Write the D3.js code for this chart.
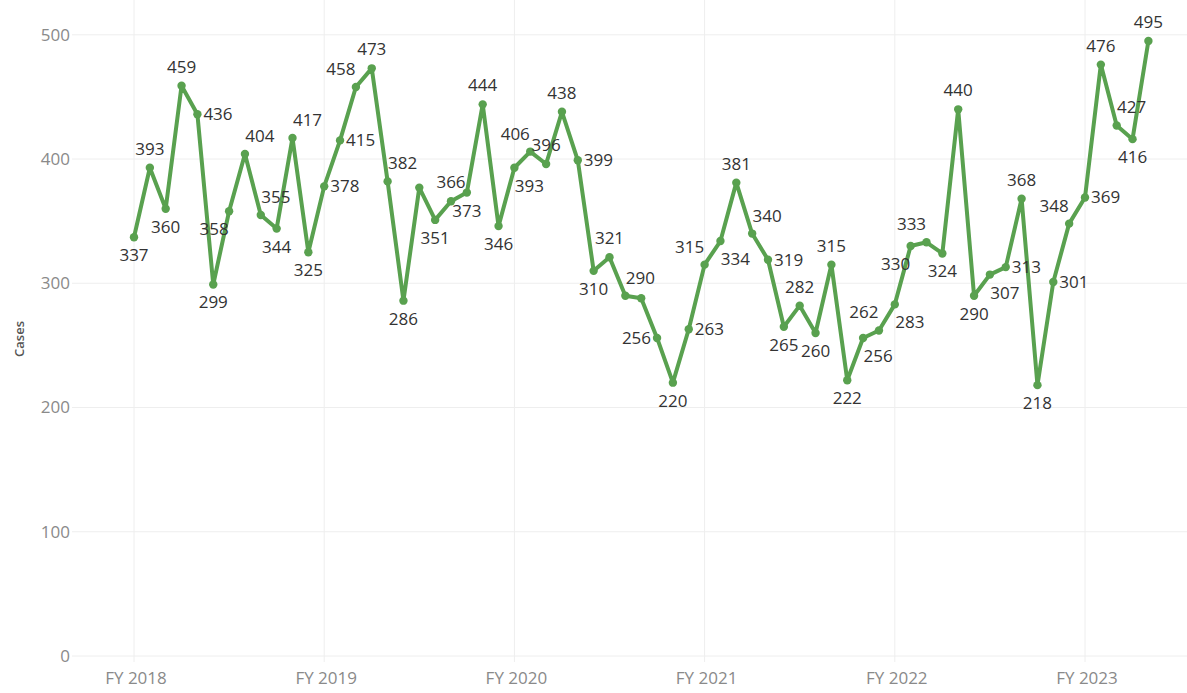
<!DOCTYPE html>
<html>
<head>
<meta charset="utf-8">
<script src="https://cdn.jsdelivr.net/npm/d3@7"></script>
<style>
  html, body { margin: 0; padding: 0; background: #fff; }
  svg { display: block; }
</style>
</head>
<body>
<div id="chart"></div>
<script>
const fiscalYears = ['FY 2018', 'FY 2019', 'FY 2020', 'FY 2021', 'FY 2022', 'FY 2023'];

// monthly case counts, first month of FY 2018 onwards
const cases = [
  337, 393, 360, 459, 436, 299, 358, 404, 355, 344, 417, 325,
  378, 415, 458, 473, 382, 286, 377, 351, 366, 373, 444, 346,
  393, 406, 396, 438, 399, 310, 321, 290, 288, 256, 220, 263,
  315, 334, 381, 340, 319, 265, 282, 260, 315, 222, 256, 262,
  283, 330, 333, 324, 440, 290, 307, 313, 368, 218, 301, 348,
  369, 476, 427, 416, 495
];

const yTicks = [0, 100, 200, 300, 400, 500];

// where each value label sits relative to its point ('' = no label)
const labelPlace = [
  'b','a','b','a','r','b','bl','ar','ar','b','ar','b',
  'r','r','al','a','ar','b','','b','a','b','a','b',
  'br','al','a','a','r','b','a','ar','','l','b','r',
  'al','br','a','ar','r','b','a','b','a','b','br','al',
  'br','bl','al','b','a','b','br','r','a','b','r','al',
  'r','a','ar','b','a'
];

const W = 1187, H = 693;
const GREEN = '#59a14f';
const GRID  = '#eeeeee';
const MUTED = '#8a8a8a';
const INK   = '#333';
const FONT  = '"Open Sans", "Noto Sans", sans-serif';

const plotLeft = 72;

const x = d3.scaleLinear()
  .domain([0, cases.length - 1])
  .range([134, 134 + (cases.length - 1) * 15.85]);

const y = d3.scaleLinear()
  .domain([0, 528])
  .range([656, 0]);

const svg = d3.select('#chart').append('svg')
  .attr('width', W)
  .attr('height', H)
  .attr('viewBox', `0 0 ${W} ${H}`);

// horizontal grid
svg.selectAll('.h-grid')
  .data(yTicks)
  .join('line')
  .attr('class', 'h-grid')
  .attr('x1', plotLeft).attr('x2', W)
  .attr('y1', d => y(d)).attr('y2', d => y(d))
  .attr('stroke', GRID)
  .attr('stroke-width', 1);

// vertical grid at each fiscal year start
const yearIdx = fiscalYears.map((_, i) => i * 12);
svg.selectAll('.v-grid')
  .data(yearIdx)
  .join('line')
  .attr('class', 'v-grid')
  .attr('x1', d => x(d)).attr('x2', d => x(d))
  .attr('y1', 0).attr('y2', y(0) + 6)
  .attr('stroke', GRID)
  .attr('stroke-width', 1);

// y tick labels
svg.selectAll('.y-label')
  .data(yTicks)
  .join('text')
  .attr('class', 'y-label')
  .attr('x', 70)
  .attr('y', d => y(d))
  .attr('dy', '0.35em')
  .attr('text-anchor', 'end')
  .attr('font-family', FONT)
  .attr('font-size', 17)
  .attr('fill', MUTED)
  .text(d => d);

// x tick labels
svg.selectAll('.x-label')
  .data(yearIdx)
  .join('text')
  .attr('class', 'x-label')
  .attr('x', d => x(d) + 2)
  .attr('y', 678)
  .attr('dy', '0.35em')
  .attr('text-anchor', 'middle')
  .attr('font-family', FONT)
  .attr('font-size', 17)
  .attr('fill', MUTED)
  .text((d, i) => fiscalYears[i]);

// y axis title
svg.append('text')
  .attr('transform', `translate(19,339) rotate(-90)`)
  .attr('dy', '0.35em')
  .attr('text-anchor', 'middle')
  .attr('font-family', FONT)
  .attr('font-size', 13)
  .attr('font-weight', 600)
  .attr('fill', '#555')
  .text('Cases');

// line
const line = d3.line()
  .x((d, i) => x(i))
  .y(d => y(d));

svg.append('path')
  .datum(cases)
  .attr('d', line)
  .attr('fill', 'none')
  .attr('stroke', GREEN)
  .attr('stroke-width', 4)
  .attr('stroke-linejoin', 'round');

svg.selectAll('.dot')
  .data(cases)
  .join('circle')
  .attr('class', 'dot')
  .attr('cx', (d, i) => x(i))
  .attr('cy', d => y(d))
  .attr('r', 4.2)
  .attr('fill', GREEN);

// value labels
const off = {
  a:  { dx: 0,   dy: -19, anchor: 'middle' },
  b:  { dx: 0,   dy: 18,  anchor: 'middle' },
  r:  { dx: 6,   dy: 0,   anchor: 'start' },
  l:  { dx: -6,  dy: 0,   anchor: 'end' },
  ar: { dx: 15,  dy: -18, anchor: 'middle' },
  al: { dx: -15, dy: -18, anchor: 'middle' },
  br: { dx: 15,  dy: 18,  anchor: 'middle' },
  bl: { dx: -15, dy: 18,  anchor: 'middle' }
};

svg.selectAll('.val')
  .data(cases.map((v, i) => ({ v, i, p: labelPlace[i] })).filter(d => d.p))
  .join('text')
  .attr('class', 'val')
  .attr('x', d => x(d.i) + off[d.p].dx)
  .attr('y', d => y(d.v) + off[d.p].dy)
  .attr('dy', '0.35em')
  .attr('text-anchor', d => off[d.p].anchor)
  .attr('font-family', FONT)
  .attr('font-size', 17)
  .attr('fill', INK)
  .text(d => d.v);
</script>
</body>
</html>
